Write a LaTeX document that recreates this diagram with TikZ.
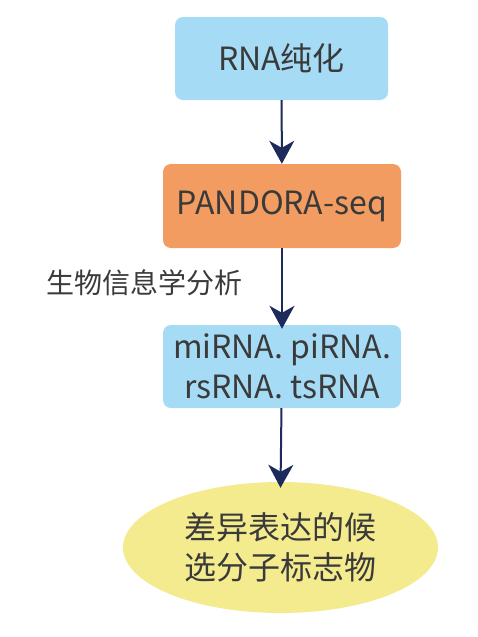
\documentclass[tikz,border=0pt]{standalone}
\usepackage{fontspec}
\setmainfont{Noto Sans CJK SC}
\usepackage{tikz}
\usetikzlibrary{arrows.meta,shapes.geometric}
\definecolor{boxblue}{HTML}{A6DBF5}
\definecolor{boxorange}{HTML}{F29C62}
\definecolor{ellyellow}{HTML}{F3EB8E}
\definecolor{arrownavy}{HTML}{1C2A5C}
\definecolor{textgray}{HTML}{3A3A3A}

\begin{document}
\begin{tikzpicture}[x=1pt,y=-1pt,
		stepbox/.style={rectangle, rounded corners=8pt, minimum width=238pt,
			minimum height=83pt, text=textgray, align=center,
			font=\fontsize{32}{40}\selectfont},
		flow/.style={draw=arrownavy, line width=2pt,
			-{Stealth[length=23pt,width=25pt,inset=7pt]}}]
		\useasboundingbox (0,0) rectangle (478,637);
		\node (purify) [stepbox, fill=boxblue, minimum width=213pt] at (281.5,58.5)
			{RNA纯化};
		\node (seq) [stepbox, fill=boxorange, minimum height=84pt] at (282,206)
			{PANDORA-seq};
		\node (types) [stepbox, fill=boxblue] at (282,366.5)
			{miRNA. piRNA.\\rsRNA. tsRNA};
		\node (markers) [ellipse, fill=ellyellow, minimum width=315pt,
			minimum height=131pt, text=textgray, align=center,
			font=\fontsize{32}{40}\selectfont] at (280.5,547.5)
			{差异表达的候\\选分子标志物};
		\node (bioinfo) [text=textgray, font=\fontsize{28}{32}\selectfont]
			at (144,283) {生物信息学分析};
		\draw [flow] (purify) to (seq);
		\draw [flow] (seq) to ([yshift=-4pt]types.north);
		\draw [flow] (types) to ([yshift=-6pt]markers.north);
	\end{tikzpicture}
\end{document}
